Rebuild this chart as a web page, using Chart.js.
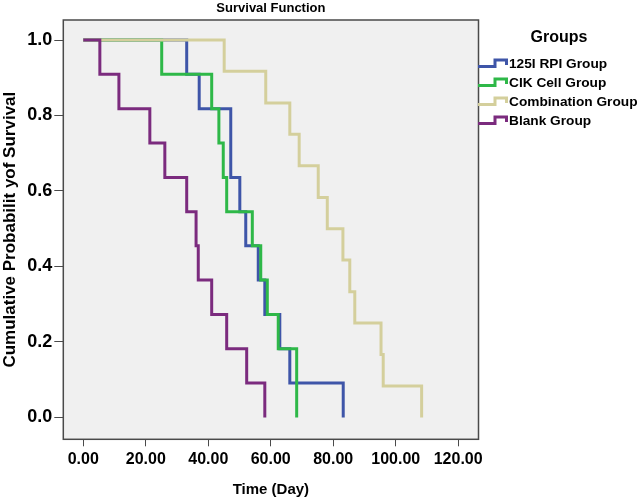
<!DOCTYPE html>
<html>
<head>
<meta charset="utf-8">
<script src="https://cdn.jsdelivr.net/npm/chart.js@4/dist/chart.umd.min.js"></script>
<style>
  body { margin: 0; background: #fff; font-family: "Liberation Sans", Arial, sans-serif; }
  #wrap { position: absolute; left: 0; top: -2px; width: 640px; height: 501px; }
  #legend { position: absolute; left: 478px; top: 0; width: 162px; font-weight: bold; color: #000; }
  #legend .ttl { position: absolute; left: 0; width: 162px; top: 27px; text-align: center; font-size: 16px; line-height: 20px; }
  #legend .row { position: absolute; left: 0; height: 18px; display: flex; align-items: center; font-size: 13.7px; white-space: nowrap; }
  #legend svg { width: 31px; height: 12px; }
</style>
</head>
<body>
<div id="wrap"><canvas id="km"></canvas></div>
<div id="legend"></div>
<script>
// Kaplan-Meier steps (time of drop, survival after the drop)
const groups = ["125I RPI Group", "CIK Cell Group", "Combination Group", "Blank Group"];
const colors = ["#3e55a8", "#2eb848", "#d4cf9c", "#7b2b7e"];

const rpiTime = [0, 33.1, 37.1, 47.2, 50.1, 52.0, 56.0, 58.1, 62.9, 66.1, 83.2];
const rpiSurv = [1, 0.909, 0.818, 0.636, 0.545, 0.455, 0.364, 0.273, 0.182, 0.091, 0];

const cikTime = [0, 25.1, 41.1, 43.4, 44.8, 45.9, 54.1, 56.8, 58.9, 62.4, 68.3];
const cikSurv = [1, 0.909, 0.818, 0.727, 0.636, 0.545, 0.455, 0.364, 0.273, 0.182, 0];

const combTime = [0, 45.1, 58.4, 66.1, 69.1, 75.2, 78.1, 83.1, 85.3, 86.9, 95.3, 96.0, 108.3];
const combSurv = [1, 0.917, 0.833, 0.75, 0.667, 0.583, 0.5, 0.417, 0.333, 0.25, 0.167, 0.083, 0];

const blankTime = [0, 5.3, 11.4, 21.3, 26.1, 33.1, 36.1, 36.8, 41.1, 45.9, 52.3, 58.1];
const blankSurv = [1, 0.909, 0.818, 0.727, 0.636, 0.545, 0.455, 0.364, 0.273, 0.182, 0.091, 0];

const xTicks = [0, 20, 40, 60, 80, 100, 120];
const yTicks = [0, 0.2, 0.4, 0.6, 0.8, 1.0];

const series = [
  [rpiTime, rpiSurv],
  [cikTime, cikSurv],
  [combTime, combSurv],
  [blankTime, blankSurv]
];

const toPoints = (t, s) => t.map((v, i) => ({ x: v, y: s[i] }));

const frame = {
  id: "frame",
  beforeDatasetsDraw(chart) {
    const { ctx, chartArea: a } = chart;
    ctx.save();
    ctx.fillStyle = "#f0f0f0";
    ctx.fillRect(a.left, a.top, a.width, a.height);
    ctx.strokeStyle = "#4a4a4a";
    ctx.lineWidth = 1.5;
    ctx.strokeRect(a.left, a.top, a.width, a.height);
    ctx.restore();
  }
};

const chart = new Chart(document.getElementById("km"), {
  type: "scatter",
  data: {
    datasets: groups.map((g, i) => ({
      label: g,
      data: toPoints(series[i][0], series[i][1]),
      showLine: true,
      stepped: true,
      borderColor: colors[i],
      backgroundColor: colors[i],
      borderWidth: 3,
      pointRadius: 0,
      order: 4 - i
    }))
  },
  options: {
    responsive: true,
    maintainAspectRatio: false,
    animation: false,
    layout: { padding: { left: 0, right: 161.5, top: 0, bottom: 0 } },
    plugins: {
      legend: { display: false },
      tooltip: { enabled: false },
      title: {
        display: true,
        text: "Survival Function",
        fullSize: false,
        color: "#000",
        font: { family: "Liberation Sans", size: 13, weight: "bold" },
        padding: { top: 2.5, bottom: 3.9 }
      }
    },
    scales: {
      x: {
        type: "linear",
        min: -6.4,
        max: 126.5,
        afterBuildTicks: (s) => { s.ticks = xTicks.map(v => ({ value: v })); },
        afterFit: (s) => { s.height = 59.7; },
        border: { display: false },
        grid: { drawOnChartArea: false, drawTicks: true, tickLength: 7, color: "#4a4a4a" },
        ticks: {
          padding: 4,
          color: "#000",
          font: { family: "Liberation Sans", size: 16, weight: "bold" },
          callback: (v) => v.toFixed(2)
        },
        title: {
          display: true,
          text: "Time (Day)",
          color: "#000",
          font: { family: "Liberation Sans", size: 15, weight: "bold" },
          padding: { top: 0, bottom: 0.5 }
        }
      },
      y: {
        type: "linear",
        min: -0.058,
        max: 1.053,
        afterBuildTicks: (s) => { s.ticks = yTicks.map(v => ({ value: v })); },
        afterFit: (s) => { s.width = 63.3; },
        border: { display: false },
        grid: { drawOnChartArea: false, drawTicks: true, tickLength: 9, color: "#4a4a4a" },
        ticks: {
          padding: 2,
          color: "#000",
          font: { family: "Liberation Sans", size: 18, weight: "bold" },
          callback: (v) => v.toFixed(1)
        },
        title: {
          display: true,
          text: "Cumulative Probabilit yof Survival",
          color: "#000",
          font: { family: "Liberation Sans", size: 17, weight: "bold" },
          padding: { top: 0, bottom: 0 }
        }
      }
    }
  },
  plugins: [frame]
});

// legend on the right, with SPSS-like step icons
const legend = document.getElementById("legend");
legend.innerHTML = '<div class="ttl">Groups</div>' + groups.map((g, i) =>
  '<div class="row" style="top:' + (54 + i * 19) + 'px">' +
  '<svg viewBox="0 0 31 12"><path d="M0 9.5 H17 V3 H28.5 V8" fill="none" stroke="' + colors[i] + '" stroke-width="3"/></svg>' +
  '<span>' + g + '</span></div>'
).join("");
</script>
</body>
</html>
